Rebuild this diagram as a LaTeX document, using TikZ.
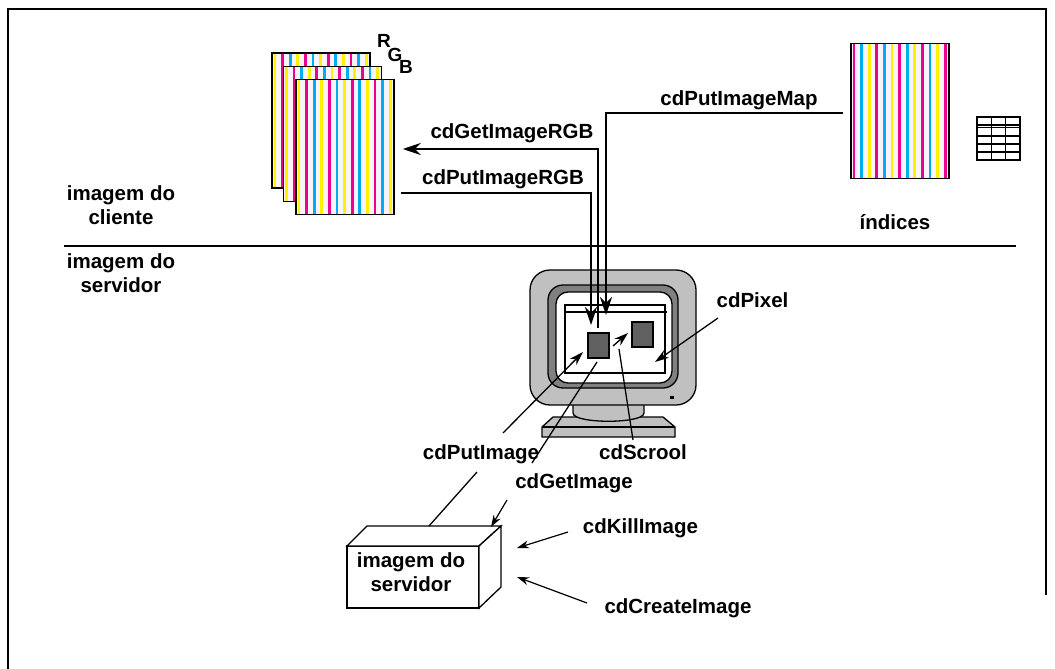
\documentclass[tikz,border=0pt]{standalone}
\usepackage{fontspec}
\setmainfont{Liberation Sans}
\usetikzlibrary{arrows.meta}

\definecolor{carta}{RGB}{248,244,250}
\definecolor{grigioChiaro}{RGB}{192,192,192}
\definecolor{grigioScuro}{RGB}{128,128,128}
\definecolor{grigioFinestra}{RGB}{96,96,96}

\tikzset{
  testo/.style={font=\fontsize{20.5}{24}\selectfont\bfseries, inner sep=1pt},
  lettera/.style={font=\fontsize{19}{22}\selectfont\bfseries, inner sep=0pt},
  % foglio a righe verticali (magenta, ciano, giallo)
  foglio/.style={draw, line width=1.5pt, fill=carta, minimum width=98pt,
    minimum height=135pt, inner sep=0pt,
    path picture={
      \foreach \i in {0,...,12} {
        \pgfmathtruncatemacro{\k}{mod(\i+#1,3)}
        \ifcase\k \def\col{magenta}\or \def\col{cyan}\or \def\col{yellow}\fi
        \fill[\col] ([xshift=\i*7.6pt+1.5pt]path picture bounding box.north west)
          rectangle ++(2.8pt,-140pt);
      }
    }},
  finestra/.style={draw, line width=1.2pt, fill=grigioFinestra,
    minimum width=21pt, minimum height=25pt, inner sep=0pt},
  linea/.style={line width=1.3pt},
  frecciaG/.style={-{Stealth[length=18pt,width=12pt]}, line width=1.3pt},
  frecciaM/.style={-{Stealth[length=14pt,width=9pt]}, line width=1.3pt},
  frecciaP/.style={-{Stealth[length=12pt,width=8pt]}, line width=1.2pt}
}

\begin{document}
\begin{tikzpicture}[x=1pt,y=-1pt]

    \useasboundingbox (0,0) rectangle (1055,669);

    % Cornice
    \draw[line width=2.5pt] (8,669) -- (8,9) -- (1046,9) -- (1046,595);

    % Separatore cliente / servidor
    \draw[line width=2.5pt] (64,246) -- (1016,246);
    \node[testo, align=center] (cliente) at (121,205) {imagem do\\cliente};
    \node[testo, align=center] (servidor) at (121,273) {imagem do\\servidor};

    % Immagine RGB del cliente
    \node[foglio=2] (rgb1) at (321,120.5) {};
    \node[foglio=2] (rgb2) at (332.5,134) {};
    \node[foglio=2] (rgb3) at (345,147) {};
    \node[lettera, anchor=base] (lR) at (384,48) {R};
    \node[lettera, anchor=base] (lG) at (395,62) {G};
    \node[lettera, anchor=base] (lB) at (406,74) {B};

    % Indici e tabella dei colori
    \node[foglio=0] (indici) at (900,111) {};
    \node[testo, anchor=base] (lIndici) at (895,229) {índices};
    \draw[line width=1.7pt] (977,117) rectangle (1020,160);
    \foreach \y in {125,127.5,136,144,152}
        \draw[line width=1.5pt] (977,\y) -- (1020,\y);
    \foreach \x in {991.3,1005.7}
        \draw[line width=1.5pt] (\x,117) -- (\x,160);

    % Monitor: base, collo, cassa
    \draw[linea, fill=grigioChiaro] (553,417) -- (663,417) -- (675,427) -- (675,437)
        -- (542,437) -- (542,427) -- cycle;
    \draw[linea] (542,427) -- (675,427);
    \draw[linea, fill=grigioChiaro] (573,398) -- (573,413)
        .. controls (573,424) and (644,424) .. (644,413) -- (644,398) -- cycle;
    \draw[linea, fill=grigioChiaro, rounded corners=20pt] (530,270) rectangle (696,405);
    \draw[linea, fill=grigioScuro, rounded corners=15pt] (548,285) rectangle (678,388);
    \draw[linea, fill=white, rounded corners=12pt] (556,292) rectangle (672,383);
    \draw[line width=1.2pt] (565,305) rectangle (665,373);
    \draw[line width=1.2pt] (565,312) -- (667,312);
    \node[finestra] (win1) at (598.5,345.5) {};
    \node[finestra] (win2) at (642.5,334.5) {};
    \fill (670,396) rectangle (674,399);

    % Immagine del servidor (scatola)
    \draw[linea, fill=white] (347,546) rectangle (479,608);
    \draw[linea, fill=white] (347,546) -- (367,526) -- (501,526) -- (479,546) -- cycle;
    \draw[linea, fill=white] (479,546) -- (501,526) -- (501,587) -- (479,608) -- cycle;
    \node[testo, align=center] (server) at (411,572) {imagem do\\servidor};

    % Etichette delle funzioni
    \node[testo, anchor=base] (lMap) at (739,106) {cdPutImageMap};
    \node[testo, anchor=base] (lGetRGB) at (512,138) {cdGetImageRGB};
    \node[testo, anchor=base] (lPutRGB) at (503,184) {cdPutImageRGB};
    \node[testo, anchor=base] (lPixel) at (752.5,307) {cdPixel};
    \node[testo, anchor=base] (lPut) at (481,459) {cdPutImage};
    \node[testo, anchor=base] (lScrool) at (643,459) {cdScrool};
    \node[testo, anchor=base] (lGet) at (574,488) {cdGetImage};
    \node[testo, anchor=base] (lKill) at (640.5,533) {cdKillImage};
    \node[testo, anchor=base] (lCreate) at (678,613) {cdCreateImage};

    % Punti di aggancio
    \coordinate (pMap) at (606,315);
    \coordinate (pGetRGB) at (598,328);
    \coordinate (pPutRGB) at (591,325);
    \coordinate (pixA) at (718,318);
    \coordinate (pixB) at (655,362);
    \coordinate (scrA) at (633,440);
    \coordinate (scrB) at (619,349);
    \coordinate (scrC) at (613,346);
    \coordinate (scrD) at (628,333);
    \coordinate (putA) at (503,433);
    \coordinate (putB) at (583,352);
    \coordinate (putC) at (477,472);
    \coordinate (putD) at (429,526);
    \coordinate (getA) at (597,362);
    \coordinate (getB) at (532,463);
    \coordinate (getC) at (507,500);
    \coordinate (getD) at (491,527);
    \coordinate (killA) at (568,532);
    \coordinate (killB) at (517,548);
    \coordinate (creA) at (587,603);
    \coordinate (creB) at (517,577);

    % Frecce
    \draw[frecciaG] ([shift={(-7pt,-2pt)}]indici.west) -| (pMap);
    \draw[frecciaG] (pGetRGB) |- ([shift={(8pt,-2pt)}]rgb3.east);
    \draw[frecciaG] ([shift={(6pt,-46pt)}]rgb3.east) -| (pPutRGB);
    \draw[frecciaM] (pixA) -- (pixB);
    \draw[linea] (scrA) -- (scrB);
    \draw[frecciaM] (scrC) -- (scrD);
    \draw[frecciaM] (putA) -- (putB);
    \draw[linea] (putC) -- (putD);
    \draw[linea] (getA) -- (getB);
    \draw[frecciaP] (getC) -- (getD);
    \draw[frecciaP] (killA) -- (killB);
    \draw[frecciaP] (creA) -- (creB);

\end{tikzpicture}
\end{document}
